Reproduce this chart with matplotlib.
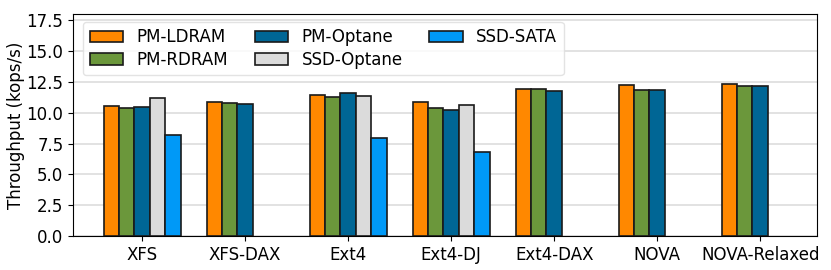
import matplotlib
matplotlib.use("Agg")
import matplotlib.pyplot as plt
import numpy as np

filesystems = ["XFS", "XFS-DAX", "Ext4", "Ext4-DJ", "Ext4-DAX", "NOVA", "NOVA-Relaxed"]
series = ["PM-LDRAM", "PM-RDRAM", "PM-Optane", "SSD-Optane", "SSD-SATA"]
colors = ["#ff8800", "#6b973b", "#006695", "#dbdbdb", "#0099f7"]

# nan = no bar for that configuration
nan = np.nan
pm_ldram = [10.51, 10.87, 11.44, 10.87, 11.95, 12.22, 12.36]
pm_rdram = [10.38, 10.79, 11.25, 10.38, 11.90, 11.87, 12.20]
pm_optane = [10.46, 10.68, 11.57, 10.22, 11.79, 11.81, 12.14]
ssd_optane = [11.16, nan, 11.33, 10.65, nan, nan, nan]
ssd_sata = [8.15, nan, 7.94, 6.85, nan, nan, nan]

values = [pm_ldram, pm_rdram, pm_optane, ssd_optane, ssd_sata]

fig = plt.figure(figsize=(8.31, 2.70), dpi=100)
ax = fig.add_axes([0.088, 0.126, 0.895, 0.822])

x = np.arange(len(filesystems))
width = 0.15
for i, (name, vals, c) in enumerate(zip(series, values, colors)):
    ax.bar(x + (i - 2) * width, vals, width, label=name, color=c,
           edgecolor="#1a1a1a", linewidth=1.2, zorder=3)

ax.set_xticks(x)
ax.set_xticklabels(filesystems, fontsize=12)
ax.set_xlim(-0.67, 6.55)
ax.set_ylim(0, 18)
ax.set_yticks(np.arange(0, 17.6, 2.5))
ax.tick_params(axis="y", labelsize=12)
ax.set_ylabel("Throughput (kops/s)", fontsize=12, labelpad=1)
ax.yaxis.grid(True, color="#dddddd", linewidth=1.2, zorder=0)
ax.set_axisbelow(True)

ax.legend(loc="upper left", bbox_to_anchor=(0.0134, 0.965), ncol=3,
          fontsize=12, frameon=True, edgecolor="#dddddd", handlelength=2.0,
          columnspacing=1.6, borderaxespad=0.0, labelspacing=0.25)

fig.savefig("out.png", dpi=100)
